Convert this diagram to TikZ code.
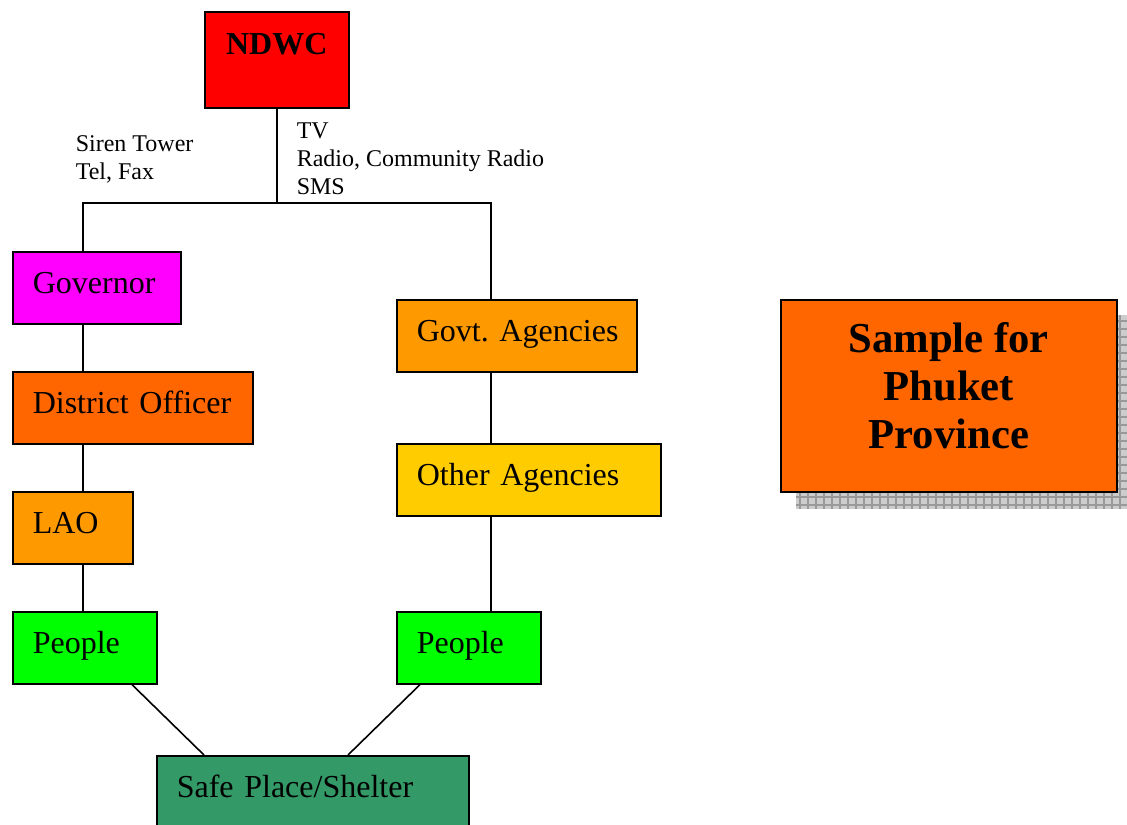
\documentclass[tikz,border=0pt]{standalone}
\usepackage{fontspec}
\setmainfont{Liberation Serif}
\usepackage{xcolor}
\usetikzlibrary{positioning,calc,patterns,backgrounds}

\definecolor{ndwcred}{HTML}{FF0000}
\definecolor{govpink}{HTML}{FF00FF}
\definecolor{darkorange}{HTML}{FF6600}
\definecolor{lightorange}{HTML}{FF9900}
\definecolor{agencyyellow}{HTML}{FFCC00}
\definecolor{peoplegreen}{HTML}{00FF00}
\definecolor{sheltergreen}{HTML}{339966}

\begin{document}
\begin{tikzpicture}[
    x=0.375pt, y=-0.375pt,
    line width=0.6pt,
    % boxes with their text in the top left corner
    unit/.style={draw, anchor=north west, minimum height=27pt, inner xsep=7.5pt,
      align=left, text height=9pt, text depth=4.8pt,
      execute at begin node={\frenchspacing\hbox\bgroup}, execute at end node={\egroup},
      font=\fontsize{12}{14}\selectfont},
    % the channels beside the top line
    channel/.style={anchor=north west, inner sep=0pt, align=left,
      font=\fontsize{9}{10.5}\selectfont},
  ]
    \useasboundingbox (0,0) rectangle (1127,825);

    \node[draw, fill=ndwcred, anchor=north west, minimum width=54pt, minimum height=36pt,
      text height=9pt, text depth=13pt, font=\fontsize{12}{14}\bfseries] (ndwc) at (204,11) {NDWC};

    % left column
    \node[unit, fill=govpink, text width=48pt] (gov) at (12,251) {Governor};
    \node[unit, fill=darkorange, text width=75pt] (dist) at (12,371) {District Officer};
    \node[unit, fill=lightorange, text width=30pt] (lao) at (12,491) {LAO};
    \node[unit, fill=peoplegreen, text width=39pt] (pplL) at (12,611) {People};

    % right column
    \node[unit, fill=lightorange, text width=75pt] (govt) at (396,299) {Govt. Agencies};
    \node[unit, fill=agencyyellow, text width=84pt] (other) at (396,443) {Other Agencies};
    \node[unit, fill=peoplegreen, text width=39pt] (pplR) at (396,611) {People};

    \node[unit, fill=sheltergreen, text width=102pt] (safe) at (156,755) {Safe Place/Shelter};

    \node[channel] (sirenlbl) at (75,135) {Siren Tower\\Tel, Fax};
    \node[channel] (medialbl) at (296,122) {TV\\Radio, Community Radio\\SMS};

    \node[draw, fill=darkorange, anchor=north west, minimum width=126pt, minimum height=72pt,
      align=center, text depth=7.5pt, font=\fontsize{16}{18}\bfseries] (smp) at (780,299) {Sample for\\Phuket\\Province};
    \begin{scope}[on background layer]
      \fill[gray!40] ([shift={(6pt,-6pt)}]smp.south west) rectangle ([shift={(6pt,-6pt)}]smp.north east);
      \fill[pattern=grid, pattern color=gray!80] ([shift={(6pt,-6pt)}]smp.south west) rectangle ([shift={(6pt,-6pt)}]smp.north east);
    \end{scope}

    \coordinate (jn) at (276,203);
    \coordinate (jl) at (83,203);
    \coordinate (jr) at (491,203);

    \draw (ndwc.south) -- (ndwc.south |- jn);
    \draw (gov.north -| jl) -- (jl) -- (jr) -- (govt.north -| jr);
    \foreach \a/\b in {gov/dist, dist/lao, lao/pplL}
      \draw (\a.south -| jl) -- (\b.north -| jl);
    \foreach \a/\b in {govt/other, other/pplR}
      \draw (\a.south -| jr) -- (\b.north -| jr);
    \draw ([xshift=45pt]pplL.south west) -- ([xshift=18pt]safe.north west);
    \draw ([xshift=9pt]pplR.south west) -- ([xshift=72pt]safe.north west);
  \end{tikzpicture}
\end{document}
